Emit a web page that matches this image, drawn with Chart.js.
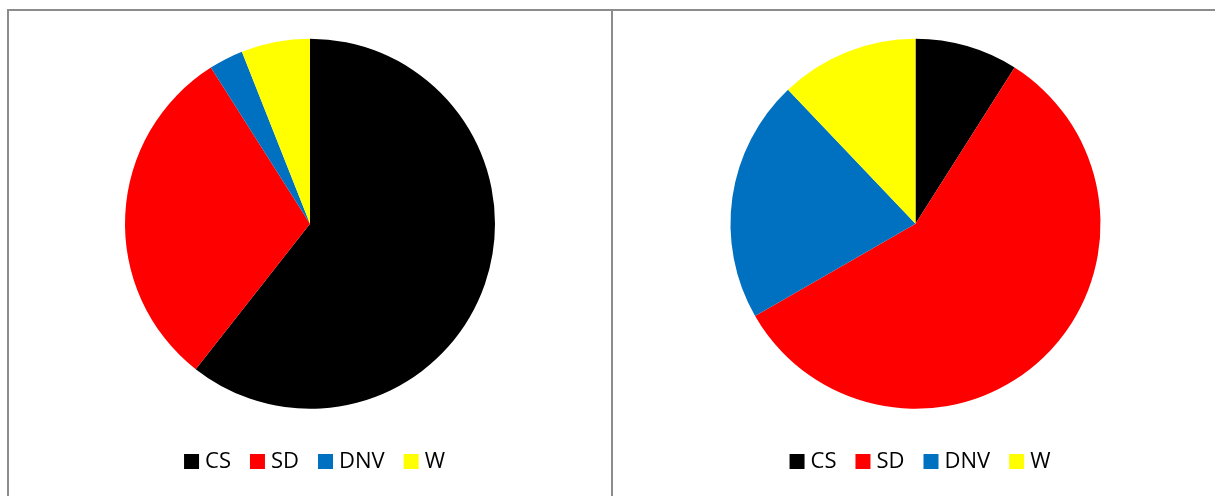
<!DOCTYPE html>
<html>
<head>
<meta charset="utf-8">
<script src="https://cdn.jsdelivr.net/npm/chart.js@4"></script>
<style>
  body { margin: 0; background: #fff; width: 1215px; height: 496px; overflow: hidden; position: relative; }
  .frame { position: absolute; left: 7px; top: 9px; width: 1210px; height: 500px;
           border-top: 2px solid #8c8c8c; border-left: 2px solid #8c8c8c; }
  .divider { position: absolute; left: 611px; top: 9px; width: 2px; height: 500px; background: #8c8c8c; }
  canvas { position: absolute; top: 11px; }
</style>
</head>
<body>
<div class="frame"></div>
<div class="divider"></div>
<canvas id="pieLeft" width="602" height="485" style="left:9px"></canvas>
<canvas id="pieRight" width="605" height="485" style="left:613px"></canvas>
<script>
// categorías y valores (en %)
const categorias = ['CS', 'SD', 'DNV', 'W'];
const valoresIzq = [60.6, 30.4, 3.0, 6.0];
const valoresDer = [9.0, 57.7, 21.2, 12.1];
const colores = ['#000000', '#ff0000', '#0070c0', '#ffff00'];

// la leyenda del original está algo corrida a la derecha del centro del pie
const moverLeyenda = {
    id: 'moverLeyenda',
    afterLayout(chart) {
        chart.legend.left += 7;
        chart.legend.right += 7;
    }
};

function hacerPie(id, valores) {
    const ctx = document.getElementById(id).getContext('2d');
    return new Chart(ctx, {
        type: 'pie',
        data: {
            labels: categorias,
            datasets: [{ data: valores, backgroundColor: colores, borderWidth: 0, radius: 185 }]
        },
        options: {
            responsive: false,
            animation: false,
            devicePixelRatio: 1,
            layout: { padding: { top: 10, bottom: 13.5, left: 0, right: 0 } },
            plugins: {
                tooltip: { enabled: false },
                legend: {
                    position: 'bottom',
                    labels: {
                        // cuadrado de 15px con el texto pegado (estilo Excel)
                        usePointStyle: true, pointStyle: 'rect',
                        boxWidth: 5, boxHeight: 15, padding: 24,
                        color: '#000',
                        font: { family: "'Open Sans', sans-serif", size: 22 }
                    }
                }
            }
        },
        plugins: [moverLeyenda]
    });
}

hacerPie('pieLeft', valoresIzq);
hacerPie('pieRight', valoresDer);
</script>
</body>
</html>
